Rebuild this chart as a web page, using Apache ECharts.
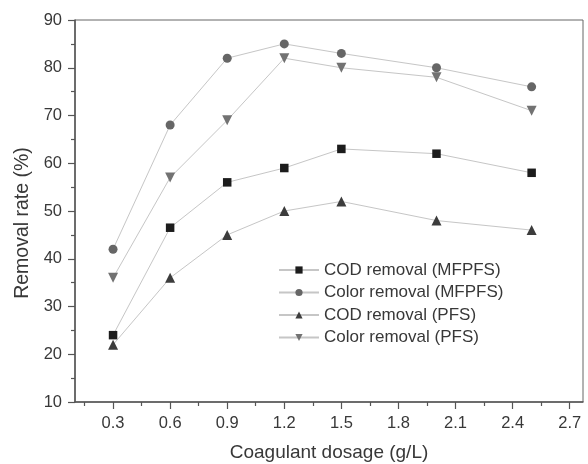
<!DOCTYPE html>
<html>
<head>
<meta charset="utf-8">
<script src="https://cdn.jsdelivr.net/npm/echarts@6/dist/echarts.min.js"></script>
<style>html,body{margin:0;padding:0;background:#fff;}#chart{width:588px;height:464px;}</style>
</head>
<body>
<div id="chart"></div>
<script>
const dosage = [0.3, 0.6, 0.9, 1.2, 1.5, 2.0, 2.5];
const codMFPFS = [24, 46.5, 56, 59, 63, 62, 58];
const colorMFPFS = [42, 68, 82, 85, 83, 80, 76];
const codPFS = [22, 36, 45, 50, 52, 48, 46];
const colorPFS = [36, 57, 69, 82, 80, 78, 71];
const seriesNames = ['COD removal (MFPFS)', 'Color removal (MFPFS)', 'COD removal (PFS)', 'Color removal (PFS)'];
const xMajorTicks = [0.3, 0.6, 0.9, 1.2, 1.5, 1.8, 2.1, 2.4, 2.7];
const xMinorTicks = [0.15, 0.45, 0.75, 1.05, 1.35, 1.65, 1.95, 2.25, 2.55];

const FONT = '"Liberation Sans", Arial, sans-serif';
const TXT = '#383838';
const LINE = '#c6c6c6';

function pairs(vals) { return dosage.map((x, i) => [x, vals[i]]); }

const chart = echarts.init(document.getElementById('chart'), null, {renderer: 'canvas'});

function mkSeries(name, vals, symbol, size, color) {
  return {
    name: name, type: 'line', data: pairs(vals),
    symbol: symbol, symbolSize: size,
    lineStyle: {color: LINE, width: 1},
    itemStyle: {color: color},
    emphasis: {disabled: true},
    animation: false, z: 3
  };
}

chart.setOption({
  backgroundColor: '#fff',
  animation: false,
  textStyle: {fontFamily: FONT},
  grid: {left: 75, top: 20, right: 5, bottom: 62, containLabel: false, outerBoundsMode: 'none',
         show: true, borderColor: '#666', borderWidth: 1, backgroundColor: 'transparent'},
  legend: {
    orient: 'vertical', left: 273, top: 255, itemWidth: 40, itemHeight: 9, itemGap: 2.5,
    textStyle: {fontFamily: FONT, fontSize: 17, lineHeight: 20, color: TXT},
    data: seriesNames.map(n => ({name: n}))
  },
  xAxis: [{
    type: 'value', min: 0.1, max: 2.77,
    name: 'Coagulant dosage (g/L)', nameLocation: 'middle', nameGap: 41,
    nameTextStyle: {fontFamily: FONT, fontSize: 19, color: TXT},
    axisLine: {show: true, lineStyle: {color: '#555', width: 1.5}},
    axisTick: {show: true, length: 7, inside: false, customValues: xMajorTicks, lineStyle: {color: '#555', width: 1.2}},
    axisLabel: {customValues: xMajorTicks, margin: 13, fontFamily: FONT, fontSize: 16.5, color: TXT, formatter: v => v.toFixed(1)},
    splitLine: {show: false}
  }, {
    type: 'value', min: 0.1, max: 2.77, position: 'bottom',
    axisLine: {show: false},
    axisTick: {show: true, length: 4, inside: false, customValues: xMinorTicks, lineStyle: {color: '#555', width: 1.2}},
    axisLabel: {show: false},
    splitLine: {show: false}
  }],
  yAxis: {
    type: 'value', min: 10, max: 90, interval: 10,
    name: 'Removal rate (%)', nameLocation: 'middle', nameGap: 41, nameRotate: 90,
    nameTextStyle: {fontFamily: FONT, fontSize: 19.5, color: TXT, padding: [0, 24, 0, 0]},
    axisLine: {show: true, lineStyle: {color: '#555', width: 1.5}},
    axisTick: {show: true, length: 7, inside: false, lineStyle: {color: '#555', width: 1.2}},
    minorTick: {show: true, splitNumber: 2, length: 4, lineStyle: {color: '#555', width: 1.2}},
    axisLabel: {margin: 13, fontFamily: FONT, fontSize: 16.5, color: TXT},
    splitLine: {show: false}
  },
  series: [
    mkSeries(seriesNames[0], codMFPFS, 'rect', 8.5, '#1c1c1c'),
    mkSeries(seriesNames[1], colorMFPFS, 'circle', 9, '#666666'),
    mkSeries(seriesNames[2], codPFS, 'triangle', 10, '#3c3c3c'),
    mkSeries(seriesNames[3], colorPFS, 'path://M0,0 L10,0 L5,9 Z', 10, '#727272')
  ]
});
</script>
</body>
</html>
